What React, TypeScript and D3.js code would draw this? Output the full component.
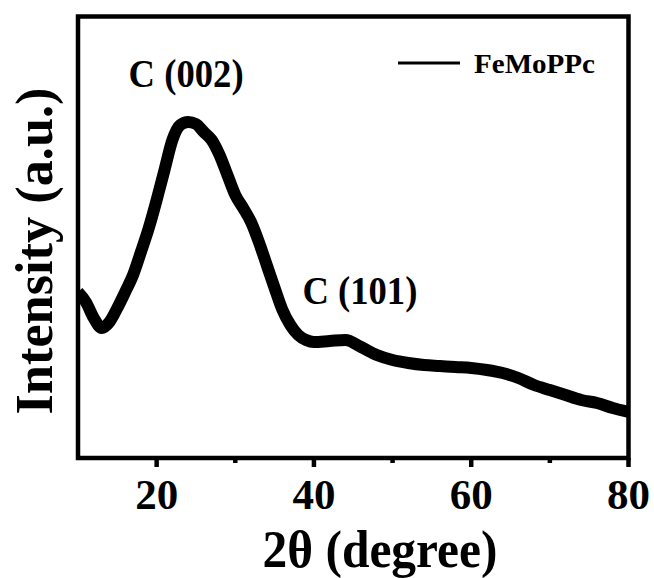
import React from "react";
import * as d3 from "d3";

const twoTheta = [10, 11, 12, 13, 14, 15, 16, 17, 18, 19, 20, 21, 22, 23, 24, 25, 26, 27, 28, 29, 30, 31, 32, 33, 34, 35, 36, 37, 38, 39, 40, 42, 44, 46, 48, 50, 52, 54, 56, 58, 60, 62, 64, 66, 68, 70, 72, 74, 76, 78, 80];
const intensity = [166, 156, 140, 130, 136, 150, 166, 183, 206, 230, 258, 288, 318, 333, 336, 334, 326, 318, 303, 283, 263, 250, 236, 216, 193, 170, 148, 133, 123, 118, 116, 117, 118, 111, 103, 98, 95, 93, 92, 91, 90, 88, 85, 80, 73, 68, 63, 58, 55, 50, 46];
const majorTicks = [20, 40, 60, 80];
const minorTicks = [30, 50, 70];
const peakLabels = [
  { text: "C (002)", x: 24, y: 371 },
  { text: "C (101)", x: 46.1, y: 154 },
];
const seriesName = "FeMoPPc";

const FONT = "'Liberation Serif', 'Times New Roman', serif";

export default function App() {
  const W = 654, H = 578;
  const left = 78, right = 628.5, top = 16.5, bottom = 458;
  const x = d3.scaleLinear().domain([10, 80]).range([left, right]);
  const y = d3.scaleLinear().domain([0, 441.5]).range([bottom, top]);
  const data = twoTheta.map((t, i) => [t, intensity[i]] as [number, number]);
  const line = d3.line<[number, number]>().x(d => x(d[0])).y(d => y(d[1])).curve(d3.curveMonotoneX);

  return (
    <svg width={W} height={H} style={{ position: "absolute", left: 0, top: 0, background: "#fff" }}>
      <defs>
        <clipPath id="plot">
          <rect x={left} y={top} width={right - left} height={bottom - top} />
        </clipPath>
      </defs>
      <path d={line(data) || ""} fill="none" stroke="#000" strokeWidth={12} strokeLinejoin="round" clipPath="url(#plot)" />
      <rect x={left} y={top} width={right - left} height={bottom - top} fill="none" stroke="#000" strokeWidth={4.5} />
      {majorTicks.map(t => (
        <line key={"M" + t} x1={x(t)} x2={x(t)} y1={bottom} y2={bottom + 9} stroke="#000" strokeWidth={4.5} />
      ))}
      {minorTicks.map(t => (
        <line key={"m" + t} x1={x(t)} x2={x(t)} y1={bottom} y2={bottom + 5} stroke="#000" strokeWidth={4.5} />
      ))}
      {majorTicks.map(t => (
        <text key={"l" + t} x={x(t)} y={509} textAnchor="middle" fontFamily={FONT} fontWeight="bold" fontSize={43} textLength={43} lengthAdjust="spacingAndGlyphs">{t}</text>
      ))}
      <text x={380} y={567} textAnchor="middle" fontFamily={FONT} fontWeight="bold" fontSize={52} textLength={235} lengthAdjust="spacingAndGlyphs">2θ (degree)</text>
      <text transform="translate(52,251) rotate(-90)" textAnchor="middle" fontFamily={FONT} fontWeight="bold" fontSize={52} textLength={327} lengthAdjust="spacingAndGlyphs">Intensity (a.u.)</text>
      {peakLabels.map(p => (
        <text key={p.text} x={x(p.x) - 2} y={y(p.y)} textAnchor="middle" fontFamily={FONT} fontWeight="bold" fontSize={41} textLength={115} lengthAdjust="spacingAndGlyphs">{p.text}</text>
      ))}
      <line x1={398} x2={460} y1={63} y2={63} stroke="#000" strokeWidth={3} />
      <text x={474} y={73} fontFamily={FONT} fontWeight="bold" fontSize={28} textLength={121} lengthAdjust="spacingAndGlyphs">{seriesName}</text>
    </svg>
  );
}
